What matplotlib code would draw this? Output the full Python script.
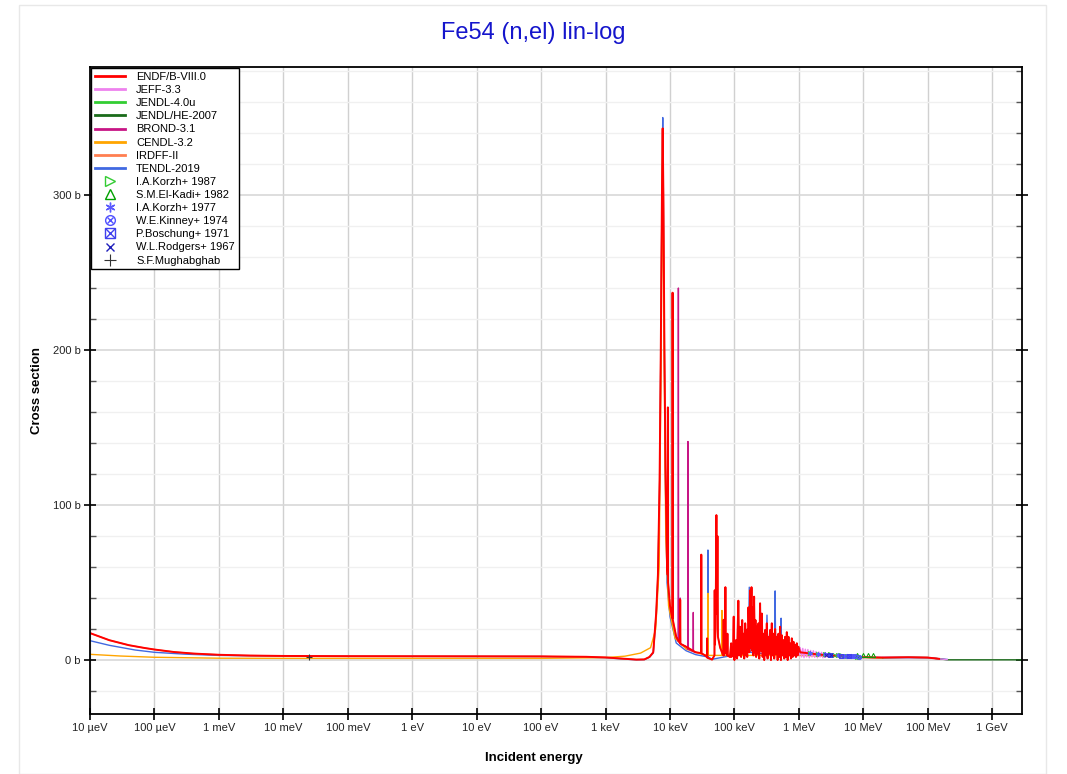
import matplotlib
matplotlib.use("Agg")
import matplotlib.pyplot as plt
from matplotlib.lines import Line2D
from matplotlib.legend_handler import HandlerTuple
from matplotlib.ticker import FixedLocator, NullLocator, MultipleLocator
from matplotlib.patches import Rectangle

plt.rcParams['font.family'] = ['Liberation Sans', 'DejaVu Sans']

# ---------------- data (energy in eV, cross section in barns) ----------------
endf_E = [1e-5, 2e-5, 4e-5, 7e-5, 1e-4, 2e-4, 4e-4, 1e-3, 3e-3, 1e-2, 1e-1, 1, 10, 100, 500,
          1000, 1500, 2000, 3000, 4000, 4800, 5500, 6100, 6500, 6900, 7200, 7500, 7700, 7900,
          8200, 8500, 9000, 9200, 9270, 9340, 10000, 10500, 10900, 10970, 11050, 12500, 14300,
          14400, 14500, 17800, 25000, 30300, 30600, 30900, 35000, 37500, 37700, 38000, 45000,
          49000, 49400, 49800, 51000, 52500, 53500, 54500, 55500, 60000, 64000, 67500, 68000,
          68500, 72000, 72400, 72800, 77500, 77800, 78200, 85000, 89000, 89500, 95000, 97500,
          99000,
          100e3, 103e3, 106e3, 108e3, 110e3, 112e3, 115e3, 118e3, 122e3, 125e3, 127e3, 130e3,
          132e3, 135e3, 138e3, 142e3, 145e3, 147e3, 151e3, 155e3, 158e3, 160e3, 163e3, 165e3,
          170e3, 175e3, 178e3, 180e3, 184e3, 188e3, 193e3, 197e3, 202e3, 207e3, 212e3, 217e3,
          222e3, 226e3, 229e3, 236e3, 243e3, 250e3, 258e3, 262e3, 266e3, 274e3, 282e3, 290e3,
          299e3, 304e3, 308e3, 318e3, 327e3, 332e3, 337e3, 347e3, 352e3, 358e3, 369e3, 380e3,
          386e3, 391e3, 403e3, 415e3, 422e3, 428e3, 441e3, 447e3, 454e3, 468e3, 475e3, 482e3,
          497e3, 505e3, 512e3, 527e3, 535e3, 543e3, 560e3, 568e3, 577e3, 594e3, 603e3, 612e3,
          631e3, 640e3, 650e3, 670e3, 680e3, 690e3, 711e3, 721e3, 732e3, 754e3, 765e3, 777e3,
          800e3, 812e3, 825e3, 850e3, 862e3, 875e3, 902e3, 915e3, 929e3, 957e3, 971e3, 986e3,
          1.05e6, 2e6, 3e6, 5e6, 10e6, 20e6, 50e6, 100e6, 150e6]
endf_xs = [17.4, 12.8, 9.6, 7.8, 6.8, 5.2, 4.2, 3.4, 2.9, 2.65, 2.5, 2.45, 2.4, 2.35, 2.1,
           1.7, 1.2, 0.8, 0.3, 0.4, 2.0, 5, 30, 55, 116, 200, 300, 343, 300,
           200, 125, 60, 55, 163, 50, 35, 30, 27, 237, 26, 15, 11,
           39, 10.5, 8.6, 5, 4.5, 68, 4.3, 3, 2, 14, 1.5, 0.3,
           3, 45, 10, 20, 93.5, 30, 80, 15, 8, 5, 3, 26,
           3, 5, 47, 6, 3, 17, 3, 2, 10.8, 2, 3, 28,
           2,
           0, 9, 12.9, 2, 1, 18, 38.3, 3, 21.5, 6, 2, 14,
           25.8, 4, 17, 1, 12, 23.7, 3, 15, 2, 20, 6, 34,
           5, 45, 8, 20, 47, 6, 34, 3, 40.9, 5, 25.8, 2,
           21.5, 9, 4, 23.7, 1, 36.6, 6, 18, 30, 2, 17, 0,
           19.4, 8, 3, 23.7, 1, 12, 15, 4, 14, 19.4, 0, 23.7,
           7, 3, 17, 1, 11, 20, 4, 10, 15, 0, 9, 17,
           2, 12, 21.5, 0, 10, 16, 3, 9, 12.9, 1, 8, 15,
           2, 11, 18, 0, 9, 15, 3, 7, 10.8, 1, 8, 14,
           2, 8, 11.8, 3, 6, 9.7, 2, 7, 10.8, 3, 5, 8.6,
           5.0, 3.6, 3.0, 2.4, 1.8, 1.6, 1.8, 1.6, 0.8]

tendl_E = [1e-5, 2e-5, 5e-5, 1e-4, 3e-4, 1e-3, 1e-2, 1, 100, 1000, 2000, 3000, 4000, 4800,
           5500, 6100, 6500, 6900, 7200, 7500, 7720, 7900, 8200, 8500, 9000, 10000, 12500,
           17800, 25000, 38600, 38800, 39000, 45000, 165e3, 170e3, 175e3, 310e3, 320e3, 330e3,
           420e3, 428e3, 436e3, 520e3, 530e3, 540e3, 1e6, 3e6, 10e6, 20e6, 100e6, 200e6]
tendl_xs = [12.5, 9.5, 6.5, 5.0, 3.8, 3.0, 2.5, 2.4, 2.3, 1.5, 0.6, 0.2, 0.3, 1.8,
            4.5, 28, 52, 110, 195, 300, 350, 290, 190, 115, 50, 28, 11,
            6, 3.5, 2, 71, 2, 0.5, 5, 47, 5, 4, 29, 4,
            5, 44.6, 5, 4, 27, 4, 4.5, 2.8, 1.8, 1.5, 1.5, 0.4]

cendl_E = [1e-5, 3e-5, 1e-4, 1e-3, 1e-2, 1, 100, 1000, 2000, 3500, 5000, 6000, 6800, 7300,
           7700, 8100, 8600, 9500, 12000, 18000, 30000, 38700, 38800, 38900, 50000, 63800,
           64000, 64200, 100e3, 1e6, 20e6]
cendl_xs = [3.7, 2.6, 1.8, 1.2, 1.1, 1.1, 1.1, 1.6, 2.5, 4.5, 8, 20, 60, 200,
            340, 200, 80, 35, 14, 7, 4, 3, 43, 3, 3, 3,
            32, 3, 3, 3, 1.4]

brond_E = [12500, 13400, 13500, 13600, 14300, 14400, 14500, 17800, 18900, 19000, 19100, 22900,
           23000, 23100, 25000]
brond_xs = [15, 12, 240, 12, 11, 40, 10.5, 8.6, 7, 141, 7, 5.5,
            30.7, 5.5, 5]

jeff_E = [0.8e6, 0.85e6, 0.9e6, 0.95e6, 1e6, 1.05e6, 1.1e6, 1.15e6, 1.2e6, 1.26e6, 1.32e6,
          1.38e6, 1.45e6, 1.52e6, 1.6e6, 1.68e6, 1.76e6, 1.85e6, 1.94e6, 2.04e6, 2.14e6,
          2.25e6, 2.36e6, 2.48e6, 2.6e6, 2.73e6, 2.87e6, 3.0e6, 3.2e6, 3.5e6, 10e6, 50e6,
          100e6, 150e6, 200e6]
jeff_xs = [3, 9, 2, 8, 3, 8, 2, 7.5, 1.5, 7, 2, 6.8, 1.5, 6.2, 2, 6, 1.8,
           5.5, 1.5, 5.2, 2, 5, 1.5, 4.6, 1.8, 4.2, 2, 4, 2.2, 3.2, 1.8, 1.8,
           1.6, 0.8, 0.3]

jendlhe_E = [20e6, 50e6, 100e6, 150e6, 200e6, 3e9]
jendlhe_xs = [1.6, 1.8, 1.6, 0.8, 0.15, 0.15]

jendl4_E = [1e6, 2e6, 3e6, 5e6, 10e6, 20e6]
jendl4_xs = [5.0, 3.6, 3.0, 2.4, 1.8, 1.6]

irdff_E = endf_E
irdff_xs = endf_xs

# experimental data
korzh87_E = [1.5e6, 2.0e6, 2.5e6, 3.0e6, 3.5e6, 4.0e6, 4.5e6, 5.0e6, 5.5e6, 6.0e6, 6.5e6,
             7.0e6, 7.5e6, 8.0e6, 8.5e6, 9.0e6]
korzh87_xs = [4.8, 4.2, 3.9, 3.6, 3.4, 3.3, 3.0, 2.9, 2.8, 2.6, 2.5, 2.4, 2.3, 2.2, 2.2, 2.1]
elkadi_E = [8.0e6, 9.9e6, 11.9e6, 13.9e6]
elkadi_xs = [3.0, 3.2, 3.3, 3.2]
korzh77_E = [1.5e6, 2.0e6, 2.5e6, 3.0e6, 4.0e6, 5.0e6, 6.0e6, 7.0e6]
korzh77_xs = [4.6, 4.0, 3.7, 3.4, 3.1, 2.8, 2.6, 2.4]
kinney_E = [5.5e6, 6.5e6, 7.5e6, 8.5e6]
kinney_xs = [2.7, 2.5, 2.3, 2.2]
boschung_E = [3.0e6, 4.5e6, 6.0e6]
boschung_xs = [3.3, 2.9, 2.6]
rodgers_E = [2.6e6, 3.2e6]
rodgers_xs = [3.5, 3.1]
mugh_E = [0.0253]
mugh_xs = [2.2]

x_ticks = [1e-5, 1e-4, 1e-3, 1e-2, 1e-1, 1, 10, 100, 1e3, 1e4, 1e5, 1e6, 1e7, 1e8, 1e9]
x_labels = ['10 µeV', '100 µeV', '1 meV', '10 meV', '100 meV', '1 eV', '10 eV', '100 eV',
            '1 keV', '10 keV', '100 keV', '1 MeV', '10 MeV', '100 MeV', '1 GeV']
y_ticks = [0, 100, 200, 300]
y_labels = ['0 b', '100 b', '200 b', '300 b']

# ---------------- figure ----------------
fig = plt.figure(figsize=(10.67, 7.74), dpi=100)
fig.patches.append(Rectangle((19 / 1067, 0), (1046 - 19) / 1067, (774 - 5) / 774,
                             transform=fig.transFigure, fill=False, edgecolor='#e8e8e8',
                             lw=1.0))
ax = fig.add_axes([90 / 1067, 1 - 714 / 774, (1022 - 90) / 1067, (714 - 67) / 774])

lines = [
    ('TENDL-2019', tendl_E, tendl_xs, '#4169e1'),
    ('IRDFF-II', irdff_E, irdff_xs, '#ff7f50'),
    ('CENDL-3.2', cendl_E, cendl_xs, '#ffa500'),
    ('BROND-3.1', brond_E, brond_xs, '#c71585'),
    ('JENDL/HE-2007', jendlhe_E, jendlhe_xs, '#1a6b1a'),
    ('JENDL-4.0u', jendl4_E, jendl4_xs, '#32cd32'),
    ('JEFF-3.3', jeff_E, jeff_xs, '#ee82ee'),
    ('ENDF/B-VIII.0', endf_E, endf_xs, '#ff0000'),
]
for name, E, xs, c in lines:
    ax.plot(E, xs, color=c, lw=1.4 if name == 'ENDF/B-VIII.0' else 1.0)

ms = 3
mw = 0.7
ax.plot(korzh87_E, korzh87_xs, ls='none', marker='>', ms=ms, mfc='none', mec='#33cc33', mew=mw)
ax.plot(elkadi_E, elkadi_xs, ls='none', marker='^', ms=ms, mfc='none', mec='#00a000', mew=mw)
ax.plot(korzh77_E, korzh77_xs, ls='none', marker=(6, 2, 0), ms=ms, mec='#5a5aff', mew=mw)
ax.plot(kinney_E, kinney_xs, ls='none', marker='o', ms=ms, mfc='none', mec='#5050ff', mew=mw)
ax.plot(kinney_E, kinney_xs, ls='none', marker='x', ms=ms * 0.7, mec='#5050ff', mew=mw)
ax.plot(boschung_E, boschung_xs, ls='none', marker='s', ms=ms, mfc='none', mec='#4040ee', mew=mw)
ax.plot(boschung_E, boschung_xs, ls='none', marker='x', ms=ms, mec='#4040ee', mew=mw)
ax.plot(rodgers_E, rodgers_xs, ls='none', marker='x', ms=ms, mec='#2020bb', mew=mw)
ax.plot(mugh_E, mugh_xs, ls='none', marker='+', ms=5, mec='#333333', mew=0.8)

ax.set_xscale('log')
ax.set_xlim(1e-5, 2.9e9)
ax.set_ylim(-34.8, 382.6)
ax.xaxis.set_major_locator(FixedLocator(x_ticks))
ax.set_xticklabels(x_labels)
ax.xaxis.set_minor_locator(NullLocator())
ax.yaxis.set_major_locator(FixedLocator(y_ticks))
ax.set_yticklabels(y_labels)
ax.yaxis.set_minor_locator(MultipleLocator(20))

ax.grid(True, which='major', axis='x', color='#d0d0d0', lw=1.0)
ax.grid(True, which='major', axis='y', color='#d8d8d8', lw=1.2)
ax.grid(True, which='minor', axis='y', color='#f0f0f0', lw=1.0)
ax.set_axisbelow(True)

for s in ax.spines.values():
    s.set_linewidth(1.3)
    s.set_color('black')
ax.tick_params(axis='x', which='major', direction='inout', length=9, width=1.2,
               labelsize=8, colors='black', labelcolor='#222222', pad=2, top=False)
ax.tick_params(axis='y', which='major', direction='inout', length=9, width=1.2,
               labelsize=8, labelcolor='#222222', right=True, pad=2)
ax.tick_params(axis='y', which='minor', direction='in', length=4, width=1.0, right=True,
               color='#555555')

fig.text(0.5, 1 - 33 / 774, 'Fe54 (n,el) lin-log', ha='center', va='center', fontsize=17,
         color='#1515cc')
fig.text(0.5, 1 - 758 / 774, 'Incident energy', ha='center', va='center', fontsize=9.5,
         fontweight='bold')
fig.text(37 / 1067, 1 - 390.5 / 774, 'Cross section', ha='center', va='center', fontsize=9.5,
         fontweight='bold', rotation=90)

# legend
handles = []
labels = []
for name, col in [('ENDF/B-VIII.0', '#ff0000'), ('JEFF-3.3', '#ee82ee'),
                  ('JENDL-4.0u', '#32cd32'), ('JENDL/HE-2007', '#1a6b1a'),
                  ('BROND-3.1', '#c71585'), ('CENDL-3.2', '#ffa500'),
                  ('IRDFF-II', '#ff7f50'), ('TENDL-2019', '#4169e1')]:
    handles.append(Line2D([], [], color=col, lw=2))
    labels.append(name)
lm = 7
handles.append(Line2D([], [], ls='none', marker='>', ms=lm, mfc='none', mec='#33cc33', mew=1))
labels.append('I.A.Korzh+ 1987')
handles.append(Line2D([], [], ls='none', marker='^', ms=lm, mfc='none', mec='#00a000', mew=1))
labels.append('S.M.El-Kadi+ 1982')
handles.append(Line2D([], [], ls='none', marker=(6, 2, 0), ms=lm, mec='#5a5aff', mew=1))
labels.append('I.A.Korzh+ 1977')
handles.append((Line2D([], [], ls='none', marker='o', ms=lm, mfc='none', mec='#5050ff', mew=1),
                Line2D([], [], ls='none', marker='x', ms=lm * 0.7, mec='#5050ff', mew=1)))
labels.append('W.E.Kinney+ 1974')
handles.append((Line2D([], [], ls='none', marker='s', ms=lm, mfc='none', mec='#4040ee', mew=1),
                Line2D([], [], ls='none', marker='x', ms=lm, mec='#4040ee', mew=1)))
labels.append('P.Boschung+ 1971')
handles.append(Line2D([], [], ls='none', marker='x', ms=lm * 0.85, mec='#2020bb', mew=1))
labels.append('W.L.Rodgers+ 1967')
handles.append(Line2D([], [], ls='none', marker='+', ms=lm * 1.3, mec='#333333', mew=0.8))
labels.append('S.F.Mughabghab')

leg = ax.legend(handles, labels, loc='upper left', bbox_to_anchor=(0.0, 1.0),
                borderaxespad=0.1, fontsize=8, labelspacing=0.28, handlelength=2.7,
                handletextpad=1.0, borderpad=0.35, fancybox=False, framealpha=1,
                edgecolor='black', handler_map={tuple: HandlerTuple(ndivide=1)})
leg.get_frame().set_linewidth(1.0)

fig.savefig('out.png', dpi=100)
